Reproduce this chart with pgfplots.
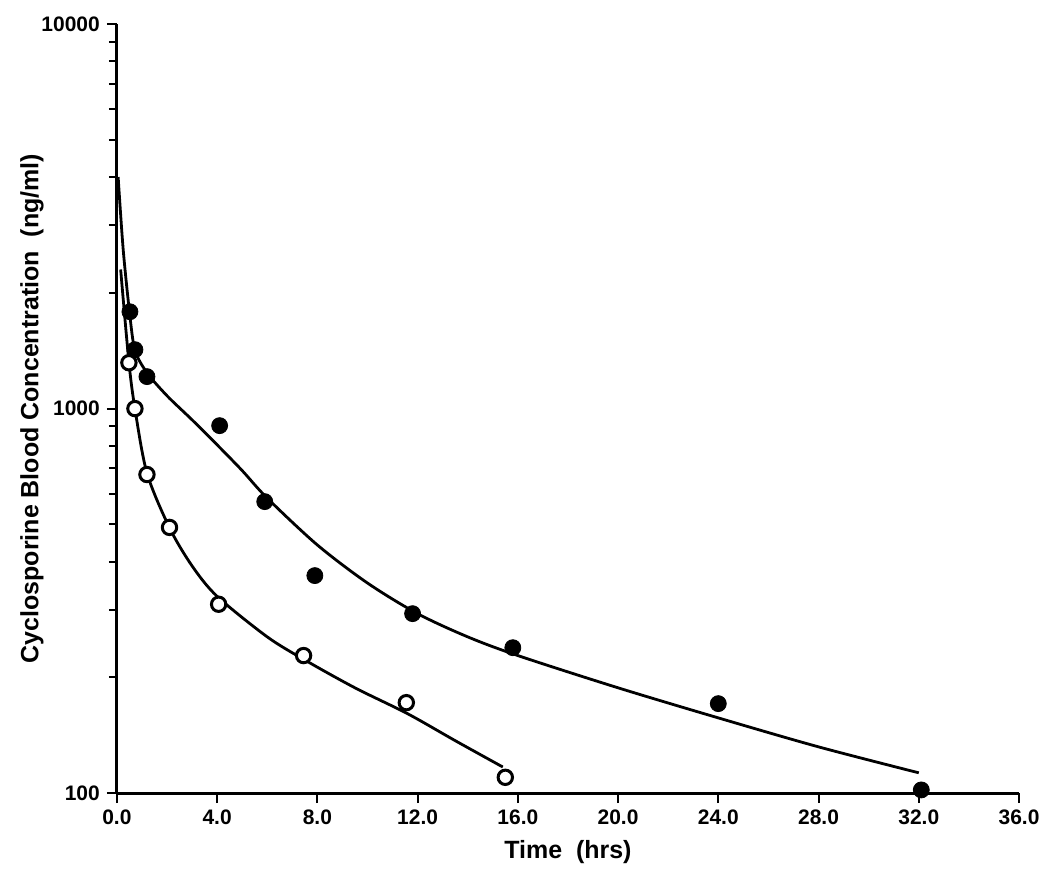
\documentclass[border=0pt]{standalone}
\usepackage{fontspec}
\setmainfont{Liberation Sans}
\usepackage{pgfplots}
\pgfplotsset{compat=1.18}

\begin{document}
\begin{tikzpicture}
\begin{axis}[
    scale only axis,
    width=451.5pt, height=385pt,
    ymode=log,
    xmin=0, xmax=36, ymin=100, ymax=10000,
    axis lines=left,
    axis line style={line width=1.4pt, -},
    clip=false,
    xtick={0,4,...,36},
    ytick={100,1000,10000},
    yticklabels={100,1000,10000},
    minor ytick={200,300,400,500,600,700,800,900,2000,3000,4000,5000,6000,7000,8000,9000},
    tick align=outside,
    major tick length=5pt, minor tick length=4pt,
    tick style={line width=1pt, black},
    xticklabel style={/pgf/number format/.cd, fixed, fixed zerofill, precision=1},
    /pgf/number format/assume math mode=true,
    ticklabel style={font=\bfseries\fontsize{10.5}{12}\selectfont},
    xlabel={Time\ \ (hrs)},
    ylabel={Cyclosporine Blood Concentration\ \ (ng/ml)},
    label style={font=\bfseries\fontsize{12.5}{14}\selectfont},
    xlabel style={at={(axis description cs:0.5,-0.076)}, anchor=center},
    ylabel style={at={(axis description cs:-0.094,0.5)}, anchor=center},
]
% fitted curve, filled symbols
\addplot[black, line width=1.4pt, smooth, tension=0.5] coordinates {
    (0.05,4000) (0.25,2600) (0.5,1790) (0.72,1420) (1.2,1240) (2,1080)
    (3,935) (4,805) (5,690) (6,585) (8,442) (10,352) (12,293) (14,255)
    (16,228) (20,188) (24,157) (28,132) (32,113)
};
% fitted curve, open symbols
\addplot[black, line width=1.4pt, smooth, tension=0.5] coordinates {
    (0.15,2300) (0.48,1320) (0.72,1000) (1.2,680) (2.1,490) (3,390)
    (4,325) (6,255) (7.5,222) (9.5,188) (11.6,161) (13.5,137) (15.4,117)
};
% observed, filled
\addplot[only marks, mark=*, mark size=4pt, black] coordinates {
    (0.52,1786) (0.72,1423) (1.2,1211) (4.1,903) (5.9,573) (7.9,368)
    (11.8,293) (15.8,239) (24.0,171) (32.1,102)
};
% observed, open
\addplot[only marks, mark=*, mark size=3.6pt, mark options={fill=white, draw=black, line width=1.5pt}] coordinates {
    (0.48,1316) (0.72,1000) (1.2,674) (2.1,491) (4.06,310) (7.45,228)
    (11.55,172) (15.5,110)
};
\coordinate (bl) at (rel axis cs:0,0);
\coordinate (tr) at (rel axis cs:1,1);
\end{axis}
\path (bl) ++(-58.5pt,-42pt);
\path (tr) ++(15.5pt,12pt);
\end{tikzpicture}
\end{document}
